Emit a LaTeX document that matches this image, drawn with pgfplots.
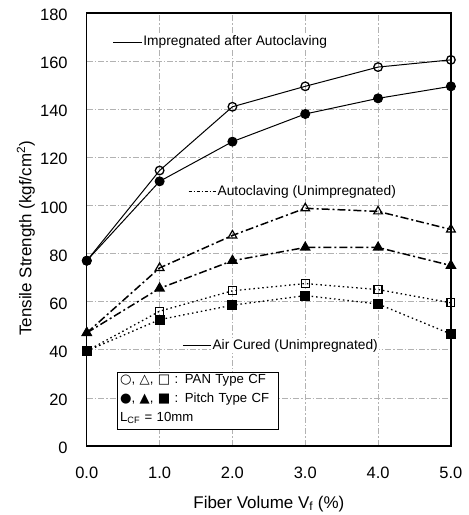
\documentclass[border=0pt]{standalone}
\usepackage{fontspec}
\setmainfont{Liberation Sans}
\newfontfamily\symfont{DejaVu Sans}
\usepackage{pgfplots}
\pgfplotsset{compat=1.18}
\begin{document}
\begin{tikzpicture}
\begin{axis}[
 scale only axis, width=365pt, height=434pt,
 xmin=0, xmax=5, ymin=0, ymax=180,
 xtick={0,1,2,3,4,5}, xticklabels={0.0,1.0,2.0,3.0,4.0,5.0},
 ytick={0,20,...,180},
 grid=major, major grid style={gray!60, dash pattern=on 6pt off 2pt on 1.5pt off 2pt, line width=0.6pt},
 axis line style={line width=1.4pt},
 tick style={draw=none},
 ticklabel style={font=\fontsize{16.5}{18}\selectfont},
 /pgf/number format/assume math mode=true,
 yticklabel style={anchor=east, inner sep=0pt, xshift=-19pt, yshift=-2pt},
 xticklabel style={anchor=north, inner sep=0pt, yshift=-21pt},
 clip=false,
]
% Impregnated after autoclaving
\addplot[black, line width=1pt, mark=*, mark size=4.5pt, mark options={solid}] coordinates {(0,77) (1,110) (2,126.5) (3,138) (4,144.5) (5,149.5)};
\addplot[black, line width=1pt, mark=o, mark size=4.3pt, mark options={solid, fill=white, line width=1.3pt}] coordinates {(0,77) (1,114.5) (2,141) (3,149.5) (4,157.5) (5,160.5)};
% Autoclaving
\addplot[black, line width=1.5pt, dash pattern=on 8pt off 3pt on 2pt off 3pt, mark=triangle*, mark size=5pt, mark options={solid}] coordinates {(0,47) (1,65.5) (2,77) (3,82.5) (4,82.5) (5,75)};
\addplot[black, line width=1.5pt, dash pattern=on 8pt off 3pt on 2pt off 3pt, mark=triangle, mark size=5pt, mark options={solid, fill=white, line width=1.2pt}] coordinates {(0,47) (1,74) (2,87.5) (3,98.8) (4,97.5) (5,90)};
% Air cured
\addplot[black, line width=1.3pt, dash pattern=on 1.5pt off 3pt, mark=square*, mark size=4.3pt, mark options={solid}] coordinates {(0,39.5) (1,52.5) (2,58.5) (3,62.5) (4,59) (5,46.5)};
\addplot[black, line width=1.3pt, dash pattern=on 1.5pt off 3pt, mark=square, mark size=4pt, mark options={solid, fill=white, line width=1.2pt}] coordinates {(0,39.5) (1,56) (2,64.5) (3,67.5) (4,65) (5,59.5)};
% annotations
\draw[black, line width=0.8pt] (axis cs:0.36,167.8) -- (axis cs:0.76,167.8);
\node[anchor=west, fill=white, inner sep=1pt, font=\fontsize{13.8}{15}\selectfont] at (axis cs:0.76,167.8) {Impregnated after Autoclaving};
\draw[black, line width=0.8pt, dash pattern=on 3pt off 2pt on 1pt off 2pt] (axis cs:1.40,105.7) -- (axis cs:1.78,105.7);
\node[anchor=west, fill=white, inner sep=1pt, font=\fontsize{13.8}{15}\selectfont] at (axis cs:1.78,105.7) {Autoclaving (Unimpregnated)};
\draw[black, line width=0.8pt] (axis cs:1.32,41.6) -- (axis cs:1.71,41.6);
\node[anchor=west, fill=white, inner sep=1pt, font=\fontsize{13.8}{15}\selectfont] at (axis cs:1.71,41.6) {Air Cured (Unimpregnated)};
\node[draw, line width=1pt, fill=white, anchor=north west, align=left, inner xsep=3pt, inner ysep=2pt, text width=156pt, font=\fontsize{13.2}{19}\selectfont] at (axis cs:0.41,30.8)
 {{\symfont ○}, {\symfont △}, {\symfont □} : PAN Type CF\\
  {\symfont ●}, {\symfont ▲}, {\symfont ■} : Pitch Type CF\\
  L\textsubscript{CF} = 10mm\strut};
\end{axis}
\node[font=\fontsize{17}{19}\selectfont] at (182.5pt,-58pt) {Fiber Volume V\textsubscript{f} (\%)};
\node[rotate=90, font=\fontsize{17}{19}\selectfont] at (-61pt,208pt) {Tensile Strength (kgf/cm\textsuperscript{2})};
\path[use as bounding box] (-87pt,-68pt) rectangle (383pt,447pt);
\end{tikzpicture}
\end{document}
